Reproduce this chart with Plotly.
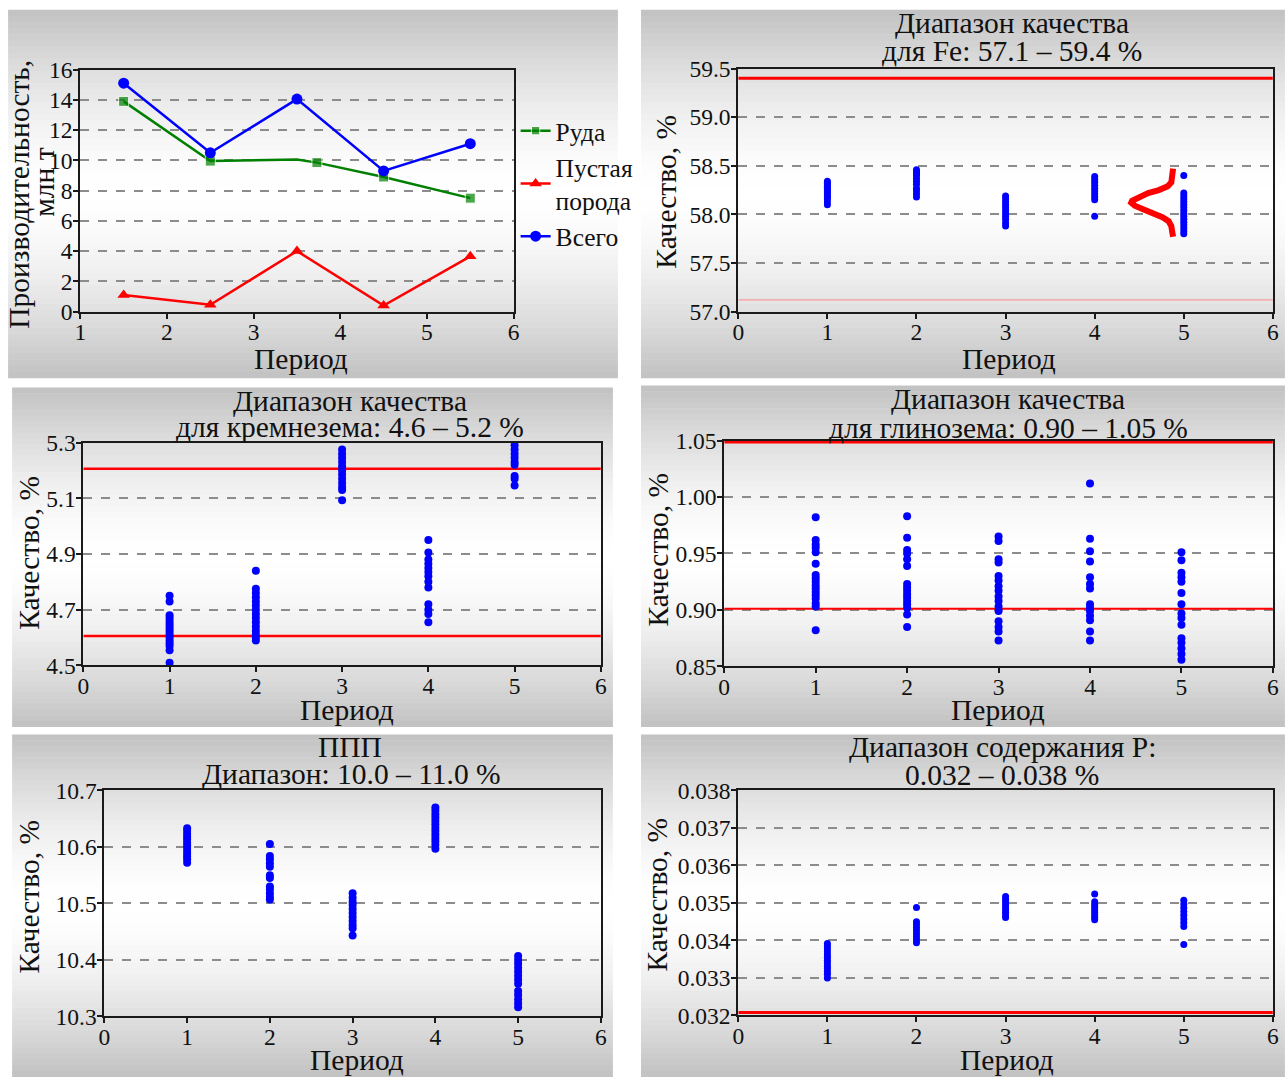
import plotly.graph_objects as go

# Figure size and the mapping from reference-picture pixels to figure paper coords
W, H = 1285, 1077
KX, OX = 1301 / 1285, -8.0
KY, OY = 1.0245, -13.7
FONT = "Liberation Serif"
TXT = "#111111"

# ---------------- data ----------------
# Panel 1: productivity, mln t
ore_x = [1.5, 2.5, 3.5, 3.73, 4.5, 5.5]
ore_y = [13.9, 9.95, 10.05, 9.85, 8.9, 7.5]
ore_marker_shown = [True, True, False, True, True, True]
waste_x = [1.5, 2.5, 3.5, 4.5, 5.5]
waste_y = [1.1, 0.45, 4.0, 0.4, 3.65]
total_x = [1.5, 2.5, 3.5, 4.5, 5.5]
total_y = [15.1, 10.5, 14.05, 9.3, 11.1]

# Panel 2: Fe quality, %
fe_period1 = [58.34, 58.32, 58.30, 58.28, 58.26, 58.24, 58.22, 58.20, 58.18, 58.16, 58.13, 58.10]
fe_period2 = [58.46, 58.44, 58.42, 58.40, 58.37, 58.34, 58.31, 58.27, 58.24, 58.21, 58.18]
fe_period3 = [58.19, 58.16, 58.13, 58.10, 58.07, 58.04, 58.01, 57.98, 57.95, 57.91, 57.88]
fe_period4 = [58.39, 58.36, 58.33, 58.30, 58.27, 58.24, 58.21, 58.18, 58.15, 57.98]
fe_period5 = [58.40, 58.22, 58.19, 58.16, 58.13, 58.10, 58.07, 58.04, 58.01, 57.98, 57.95,
              57.92, 57.89, 57.86, 57.83, 57.80]
fe_limits = [59.4, 57.12]
fe_curve_x = [4.88, 4.87, 4.86, 4.82, 4.72, 4.60, 4.50, 4.42, 4.41, 4.45, 4.55, 4.66, 4.76,
              4.83, 4.86, 4.87, 4.88]
fe_curve_y = [58.47, 58.38, 58.33, 58.29, 58.25, 58.22, 58.18, 58.14, 58.12, 58.09, 58.05,
              58.01, 57.97, 57.93, 57.88, 57.82, 57.77]

# Panel 3: silica quality, %
si_period1 = [4.75, 4.73, 4.68, 4.67, 4.66, 4.65, 4.64, 4.63, 4.62, 4.61, 4.60, 4.59, 4.58,
              4.57, 4.555, 4.51]
si_period2 = [4.84, 4.775, 4.76, 4.745, 4.73, 4.715, 4.70, 4.685, 4.67, 4.655, 4.64, 4.625,
              4.61, 4.60, 4.59]
si_period3 = [5.275, 5.26, 5.245, 5.23, 5.215, 5.20, 5.185, 5.17, 5.155, 5.14, 5.13, 5.093]
si_period4 = [4.95, 4.905, 4.88, 4.865, 4.85, 4.835, 4.82, 4.80, 4.78, 4.72, 4.70, 4.685, 4.655]
si_period5 = [5.29, 5.275, 5.26, 5.245, 5.23, 5.22, 5.18, 5.17, 5.146]
si_limits = [5.206, 4.606]

# Panel 4: alumina quality, %
al_period1 = [0.982, 0.962, 0.958, 0.955, 0.951, 0.941, 0.931, 0.928, 0.925, 0.922, 0.919,
              0.916, 0.913, 0.910, 0.906, 0.903, 0.882]
al_period2 = [0.983, 0.964, 0.953, 0.950, 0.945, 0.939, 0.923, 0.920, 0.917, 0.914, 0.911,
              0.908, 0.905, 0.902, 0.896, 0.885]
al_period3 = [0.965, 0.961, 0.945, 0.942, 0.930, 0.926, 0.921, 0.917, 0.912, 0.908, 0.903,
              0.899, 0.890, 0.885, 0.881, 0.873]
al_period4 = [1.012, 0.963, 0.952, 0.943, 0.929, 0.923, 0.919, 0.905, 0.902, 0.899, 0.895,
              0.891, 0.881, 0.873]
al_period5 = [0.951, 0.944, 0.933, 0.929, 0.925, 0.915, 0.905, 0.897, 0.893, 0.887, 0.875,
              0.871, 0.866, 0.861, 0.856]
al_limits = [1.049, 0.901]

# Panel 5: LOI (ППП), %
loi_period1 = [10.633, 10.628, 10.623, 10.618, 10.613, 10.608, 10.603, 10.598, 10.593,
               10.588, 10.583, 10.578, 10.572]
loi_period2 = [10.605, 10.584, 10.578, 10.571, 10.565, 10.55, 10.545, 10.53, 10.525, 10.518,
               10.512, 10.507]
loi_period3 = [10.518, 10.51, 10.503, 10.497, 10.49, 10.483, 10.476, 10.469, 10.462, 10.456,
               10.443]
loi_period4 = [10.670, 10.664, 10.658, 10.652, 10.646, 10.640, 10.634, 10.628, 10.622,
               10.616, 10.610, 10.604, 10.597]
loi_period5 = [10.407, 10.40, 10.393, 10.386, 10.379, 10.372, 10.365, 10.358, 10.345,
               10.338, 10.33, 10.323, 10.316]

# Panel 6: phosphorus, %
p_period1 = [0.03392, 0.03385, 0.03378, 0.03370, 0.03362, 0.03355, 0.03347, 0.03340,
             0.03332, 0.03325, 0.03317, 0.03310, 0.03300]
p_period2 = [0.03488, 0.03450, 0.03442, 0.03434, 0.03426, 0.03418, 0.03410, 0.03402, 0.03394]
p_period3 = [0.03517, 0.03510, 0.03503, 0.03496, 0.03489, 0.03482, 0.03475, 0.03468, 0.03461]
p_period4 = [0.03524, 0.03503, 0.03496, 0.03489, 0.03482, 0.03475, 0.03468, 0.03461, 0.03455]
p_period5 = [0.03507, 0.03497, 0.03487, 0.03477, 0.03467, 0.03457, 0.03447, 0.03437, 0.03389]
p_limits = [0.03208]

x_axis_title = "Период"
y_axis_title = "Качество, %"

# ---------------- helpers ----------------
def px(x):
    return (x * KX + OX) / W


def py(y):
    return 1 - (y * KY + OY) / H


fig = go.Figure()

# panel geometry (reference pixels): plot area, background box
panels = {
    1: dict(plot=(82, 514, 70, 312), bg=(10, 618, 10, 378)),
    2: dict(plot=(738, 1271, 69, 312), bg=(641, 1283, 10, 378)),
    3: dict(plot=(85, 601, 443, 666), bg=(14, 613, 388, 727)),
    4: dict(plot=(724, 1271, 441, 667), bg=(641, 1283, 386, 727)),
    5: dict(plot=(106, 601, 791, 1017), bg=(14, 613, 735, 1077)),
    6: dict(plot=(738, 1271, 791, 1016), bg=(641, 1283, 735, 1077)),
}

# gradient backgrounds
shapes = []
NB = 60
for k, p in panels.items():
    x0, x1, y0, y1 = p["bg"]
    h = (y1 - y0) / NB
    for i in range(NB):
        t = (i + 0.5) / NB
        g = int(round(255 - 62 * (abs(t - 0.5) / 0.5) ** 1.6))
        shapes.append(dict(type="rect", xref="paper", yref="paper", layer="below",
                           x0=px(x0), x1=px(x1), y0=py(y0 + i * h), y1=py(y0 + (i + 1) * h + 0.6),
                           fillcolor=f"rgb({g},{g},{g})", line=dict(width=0)))


def add_points(k, values_list, size, color="#0000ff"):
    for per, vals in zip([1, 2, 3, 4, 5], values_list):
        fig.add_trace(go.Scatter(x=[per] * len(vals), y=vals, mode="markers",
                                 marker=dict(size=size, color=color, line=dict(width=0)),
                                 xaxis=f"x{k}", yaxis=f"y{k}", showlegend=False,
                                 hoverinfo="x+y"))


def add_limit(k, val, width, color="#ff0000"):
    fig.add_trace(go.Scatter(x=[0, 6], y=[val, val], mode="lines",
                             line=dict(color=color, width=width),
                             xaxis=f"x{k}", yaxis=f"y{k}", showlegend=False))


# ---- panel 1 ----
fig.add_trace(go.Scatter(x=ore_x, y=ore_y, mode="lines+markers", name="Руда",
                         line=dict(color="#008000", width=2.5),
                         marker=dict(symbol="square", color="#008000",
                                     size=[10 if s else 0 for s in ore_marker_shown]),
                         xaxis="x1", yaxis="y1"))
fig.add_trace(go.Scatter(x=waste_x, y=waste_y, mode="lines+markers", name="Пустая<br>порода",
                         line=dict(color="#ff0000", width=2.5),
                         marker=dict(symbol="triangle-up", color="#ff0000", size=11),
                         xaxis="x1", yaxis="y1"))
fig.add_trace(go.Scatter(x=total_x, y=total_y, mode="lines+markers", name="Всего",
                         line=dict(color="#0000ff", width=2.5),
                         marker=dict(symbol="circle", color="#0000ff", size=11),
                         xaxis="x1", yaxis="y1"))

# ---- panel 2 ----
add_limit(2, fe_limits[0], 3)
add_limit(2, fe_limits[1], 1, "#ff8c8c")
add_points(2, [fe_period1, fe_period2, fe_period3, fe_period4, fe_period5], 7)
fig.add_trace(go.Scatter(x=fe_curve_x, y=fe_curve_y, mode="lines",
                         line=dict(color="#ff0000", width=6), xaxis="x2", yaxis="y2",
                         showlegend=False))

# ---- panel 3 ----
add_limit(3, si_limits[0], 2.5)
add_limit(3, si_limits[1], 2.5)
add_points(3, [si_period1, si_period2, si_period3, si_period4, si_period5], 8)

# ---- panel 4 ----
add_limit(4, al_limits[0], 3.5)
add_limit(4, al_limits[1], 2)
add_points(4, [al_period1, al_period2, al_period3, al_period4, al_period5], 8)

# ---- panel 5 ----
add_points(5, [loi_period1, loi_period2, loi_period3, loi_period4, loi_period5], 8)

# ---- panel 6 ----
add_limit(6, p_limits[0], 3)
add_points(6, [p_period1, p_period2, p_period3, p_period4, p_period5], 7)

# ---------------- axes ----------------
yspecs = {
    1: dict(range=[0, 16], dtick=2, tickformat="d"),
    2: dict(range=[57.0, 59.5], dtick=0.5, tickformat=".1f"),
    3: dict(range=[4.5, 5.3], tickvals=[4.5, 4.7, 4.9, 5.1, 5.3], tickformat=".1f"),
    4: dict(range=[0.85, 1.05], dtick=0.05, tickformat=".2f"),
    5: dict(range=[10.3, 10.7], dtick=0.1, tickformat=".1f"),
    6: dict(range=[0.032, 0.038], dtick=0.001, tickformat=".3f"),
}
xranges = {1: [1, 6], 2: [0, 6], 3: [0, 6], 4: [0, 6], 5: [0, 6], 6: [0, 6]}

axis_common = dict(showline=True, linecolor="#1a1a1a", linewidth=2, mirror=True,
                   ticks="outside", ticklen=5, tickwidth=1.5, tickcolor="#1a1a1a",
                   tickfont=dict(family=FONT, size=23.5, color=TXT), zeroline=False)

layout_axes = {}
for k, p in panels.items():
    x0, x1, y0, y1 = p["plot"]
    layout_axes[f"xaxis{k}"] = dict(domain=[px(x0), px(x1)], anchor=f"y{k}",
                                    range=xranges[k], dtick=1, showgrid=False,
                                    ticklabelstandoff=-7, **axis_common)
    ys = yspecs[k]
    layout_axes[f"yaxis{k}"] = dict(domain=[py(y1), py(y0)], anchor=f"x{k}",
                                    showgrid=True, gridcolor="#8c8c8c", gridwidth=1.5,
                                    griddash="dash", ticklabelstandoff=-4, **ys,
                                    **axis_common)

# ---------------- annotations ----------------
ann = []


def text(x, y, s, size=29.5, angle=0):
    ann.append(dict(x=px(x), y=py(y), xref="paper", yref="paper", text=s, showarrow=False,
                    xanchor="center", yanchor="middle", textangle=angle,
                    font=dict(family=FONT, size=size, color=TXT)))


# titles
text(1011, 23, "Диапазон качества")
text(1011, 51, "для Fe: 57.1 – 59.4 %")
text(351, 401, "Диапазон качества")
text(351, 427, "для кремнезема: 4.6 – 5.2 %")
text(1007, 399, "Диапазон качества")
text(1007, 428, "для глинозема: 0.90 – 1.05 %")
text(351, 748, "ППП")
text(352, 775, "Диапазон: 10.0 – 11.0 %")
text(1001, 748, "Диапазон содержания P:")
text(1001, 776, "0.032 – 0.038 %")

# x titles
for (xx, yy) in [(302, 359), (1008, 359), (348, 711), (997, 711), (358, 1061), (1006, 1061)]:
    text(xx, yy, x_axis_title)

# y titles
for (xx, yy) in [(666, 192), (30, 553), (657, 550), (31, 897), (657, 895)]:
    text(xx, yy, y_axis_title, angle=-90)
text(20, 195, "Производительность,", angle=-90)
text(45, 182, "млн т", angle=-90)

fig.update_layout(
    width=W, height=H, margin=dict(l=0, r=0, t=0, b=0),
    paper_bgcolor="white", plot_bgcolor="rgba(0,0,0,0)",
    shapes=shapes, annotations=ann,
    showlegend=True,
    legend=dict(x=px(516), y=py(108), xanchor="left", yanchor="top",
                bgcolor="rgba(0,0,0,0)", font=dict(family=FONT, size=25.5, color=TXT),
                itemwidth=30, tracegroupgap=0),
    font=dict(family=FONT, color=TXT),
    **layout_axes,
)

fig.write_html("out.html")
